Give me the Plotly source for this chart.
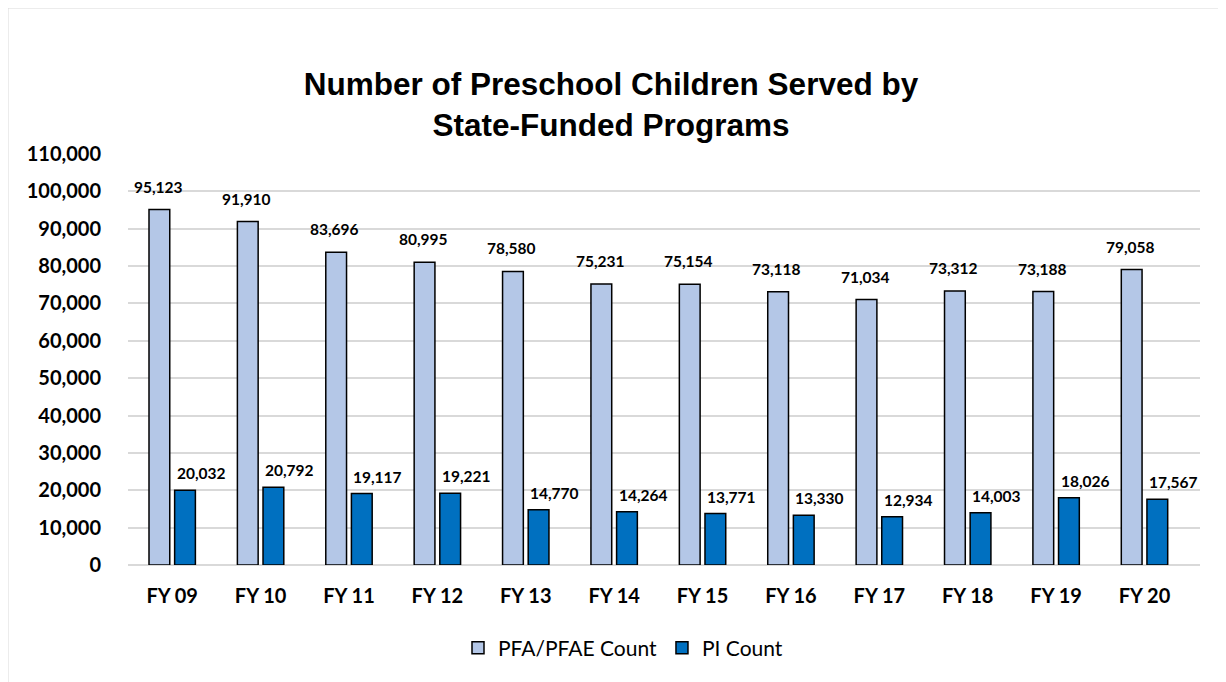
import plotly.graph_objects as go

categories = ["FY 09", "FY 10", "FY 11", "FY 12", "FY 13", "FY 14", "FY 15", "FY 16", "FY 17", "FY 18", "FY 19", "FY 20"]
pfa_counts = [95123, 91910, 83696, 80995, 78580, 75231, 75154, 73118, 71034, 73312, 73188, 79058]
pi_counts = [20032, 20792, 19117, 19221, 14770, 14264, 13771, 13330, 12934, 14003, 18026, 17567]
y_ticks = list(range(0, 110001, 10000))

FONT = "Lato"
OFF = 8  # page body margin
W, H = 1226 - OFF, 682 - OFF
ML, MR, MT, MB = 128 - OFF, 26, 154 - OFF, 117
PW, PH = W - ML - MR, H - MT - MB

fig = go.Figure()
fig.add_trace(go.Bar(x=categories, y=pfa_counts, name="PFA/PFAE Count",
                     marker=dict(color="#B4C7E7", line=dict(color="black", width=1.5))))
fig.add_trace(go.Bar(x=categories, y=pi_counts, name="PI Count",
                     marker=dict(color="#0070C0", line=dict(color="black", width=1.5))))

ann = []
for c, v in zip(categories, pfa_counts):
    ann.append(dict(x=c, y=v, xref="x", yref="y", text=f"{v:,}", showarrow=False,
                    yanchor="bottom", xshift=-14, yshift=12,
                    font=dict(family=FONT, size=15.5, color="black", weight="bold")))
for c, v in zip(categories, pi_counts):
    ann.append(dict(x=c, y=v, xref="x", yref="y", text=f"{v:,}", showarrow=False,
                    yanchor="bottom", xshift=29, yshift=6,
                    font=dict(family=FONT, size=15.5, color="black", weight="bold")))


def px_x(p):
    return (p - OFF - ML) / PW


def px_y(p):
    return (H - MB - (p - OFF)) / PH


shapes = [
    dict(type="line", xref="paper", yref="paper", x0=px_x(7), x1=px_x(1226), y0=px_y(7.5), y1=px_y(7.5),
         line=dict(color="#D9D9D9", width=2)),
    dict(type="line", xref="paper", yref="paper", x0=px_x(7.5), x1=px_x(7.5), y0=px_y(7), y1=px_y(682),
         line=dict(color="#D9D9D9", width=2)),
]

fig.update_layout(
    width=W, height=H,
    margin=dict(l=ML, r=MR, t=MT, b=MB),
    paper_bgcolor="white", plot_bgcolor="white",
    barmode="group", bargap=0.42, bargroupgap=0.19,
    title=dict(text="Number of Preschool Children Served by<br>State-Funded Programs",
               x=(611 - OFF) / W, xanchor="center", xref="container", y=1 - 87 / H, yanchor="middle",
               font=dict(family="Liberation Sans", size=31.5, color="black", weight="bold")),
    showlegend=True,
    legend=dict(orientation="h", x=px_x(623), xanchor="center", y=px_y(648), yanchor="middle",
                font=dict(family=FONT, size=21, color="black"), itemwidth=30, traceorder="normal"),
    annotations=ann,
    shapes=shapes,
)
fig.update_yaxes(range=[0, 110000], tickvals=y_ticks, tickformat=",d",
                 showgrid=True, gridcolor="#D9D9D9", gridwidth=1.5,
                 zeroline=True, zerolinecolor="#D9D9D9", zerolinewidth=1.5,
                 showline=False, ticks="", ticklabelstandoff=26,
                 tickfont=dict(family=FONT, size=20, color="black", weight="bold"))
fig.update_xaxes(showgrid=False, showline=False, ticks="", ticklabelstandoff=17,
                 tickfont=dict(family=FONT, size=20, color="black", weight="bold"))

fig.write_html("out.html")
